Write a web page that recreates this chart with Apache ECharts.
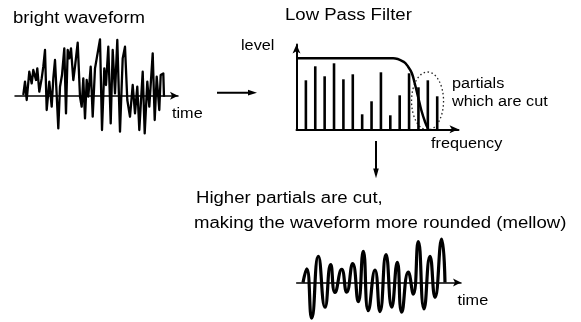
<!DOCTYPE html>
<html><head><meta charset="utf-8">
<script src="https://cdn.jsdelivr.net/npm/echarts@6/dist/echarts.min.js"></script>
<style>html,body{margin:0;padding:0;background:#fff}#c{width:581px;height:322px}</style>
</head><body><div id="c"></div>
<script>
// bright (unfiltered) waveform: time vs amplitude
const brightTime = [8.3,10,11.7,14.3,16.7,18.3,21,22.3,24.3,26.7,28.3,30,31.7,34.3,36.7,38.3,40,41.7,43.3,45,47,49.3,51,52.7,54.3,56,58.3,60,62.7,65,66.7,68.3,70,71.7,73.3,75.7,77.7,80,81.7,85,87,89.3,91,93.3,95.7,97.7,100,102.3,105,107.7,110,112.3,115,117.7,120,122.3,124.3,127.7,129.7,132.3,134.3,137.7,139.7,141.7,144.3,145.7,148.3,149];
const brightAmp  = [0.7,14,-4.3,24,12.3,25.7,15.7,27.3,4,17.3,29,45.7,-14.3,14,-11,17.3,35.7,37.3,-32.7,9,20.7,47.3,-17.7,45.7,37.3,47.3,15.7,29,53,-1,-11,17.3,-22.7,15.7,-1,29,-21,27.3,29,56.3,-34.3,27.3,10.7,49,-27.7,45.7,2.3,55.7,-36,37.3,49,-4.3,-21,10.7,-17.7,9,-34.3,24,-37.7,14,-11,42.3,-24.3,19,-14.3,20.7,22.3,-1];

// spectrum: harmonic number vs partial level
const harmonics     = [1,2,3,4,5,6,7,8,9,10,11,12,13,14,15];
const partialLevels = [49,63,53,66,50,55,15,28,57,14,34,56,42,49,33];

// low pass filter response curve
const filterFreq  = [0,10.3,11.4,11.9,12.3,12.6,12.96,13.3,13.7,14.05];
const filterLevel = [71,71,67.6,62.6,56,46,32.6,19.3,7.6,0];

// mellow (filtered) waveform
const mellowTime = [6.3,10,15,21.6,28.3,34,38.3,45,50,56,61.6,66.6,71.6,78.3,83.3,89.3,95,100.6,105,111.6,116.6,121.6,127.3,133.3,138.3,145,148.3];
const mellowAmp  = [0,14,-36,26.6,-25,18.3,-10,13.3,-9.7,19.3,-19.4,31.6,-28.4,12.6,-29.4,28.3,-25,20.6,-30,10.6,-11.7,41.6,-26.7,26.6,-15,44,0];

const labels = {
  bright: 'bright waveform', time: 'time', lpf: 'Low Pass Filter', level: 'level',
  partials: 'partials', cut: 'which are cut', freq: 'frequency',
  line1: 'Higher partials are cut,', line2: 'making the waveform more rounded (mellow)'
};

const zip = (a, b) => a.map((v, i) => [v, b[i]]);
const chart = echarts.init(document.getElementById('c'), null, {renderer: 'canvas'});

const hidden = {axisTick:{show:false}, axisLabel:{show:false}, splitLine:{show:false}};
function axis(gi, min, max, width, showLine, arrow) {
  return Object.assign({gridIndex: gi, type: 'value', min, max,
    axisLine: {show: showLine, onZero: true, symbol: ['none', 'arrow'], symbolSize: arrow,
      lineStyle: {color: '#000', width}}}, hidden);
}

function txt(x, baseline, text, size) {
  return {type: 'text', x, y: baseline - 0.31 * size, scaleX: 1.16, silent: true,
    style: {text, font: size + 'px "Liberation Sans", Arial, sans-serif', fill: '#000',
      align: 'left', verticalAlign: 'middle'}};
}

const option = {
  animation: false,
  backgroundColor: '#fff',
  grid: [
    {left: 15, top: 35.7, width: 163, height: 100},
    {left: 296.5, top: 44.5, width: 162, height: 84.8},
    {left: 296.7, top: 233.3, width: 164.3, height: 90}
  ],
  xAxis: [
    axis(0, 0, 163, 1.5, true, [6, 8]),
    axis(1, 0, 17.27, 2, true, [6, 9]),
    axis(2, 0, 164.3, 1.5, true, [6, 8])
  ],
  yAxis: [
    axis(0, -40, 60, 1, false, [0, 0]),
    axis(1, 0, 84.8, 2, true, [6, 9]),
    axis(2, -40, 50, 1, false, [0, 0])
  ],
  series: [
    {type: 'line', xAxisIndex: 0, yAxisIndex: 0, data: zip(brightTime, brightAmp),
      showSymbol: false, lineStyle: {color: '#000', width: 2.3, join: 'round'}, z: 3},
    {type: 'bar', xAxisIndex: 1, yAxisIndex: 1, data: zip(harmonics, partialLevels),
      barWidth: 2.6, itemStyle: {color: '#000'}},
    {type: 'line', xAxisIndex: 1, yAxisIndex: 1, data: zip(filterFreq, filterLevel),
      smooth: 0.4, showSymbol: false, lineStyle: {color: '#000', width: 2.5}, z: 4},
    {type: 'line', xAxisIndex: 2, yAxisIndex: 2, data: zip(mellowTime, mellowAmp),
      smooth: 0.55, showSymbol: false, lineStyle: {color: '#000', width: 3.2}, z: 3}
  ]
};
chart.setOption(option);

const ec = chart.convertToPixel({gridIndex: 1}, [13.97, 28.3]);
const graphics = [
  {type: 'ellipse', shape: {cx: ec[0], cy: ec[1], rx: 16, ry: 29}, silent: true,
    style: {fill: 'none', stroke: '#222', lineWidth: 1.3, lineDash: [1.5, 2.5]}},
  // flow arrows
  {type: 'line', shape: {x1: 217, y1: 92.7, x2: 250, y2: 92.7}, style: {stroke: '#000', lineWidth: 2}},
  {type: 'polygon', shape: {points: [[257, 92.7], [248, 89.8], [248, 95.6]]}, style: {fill: '#000'}},
  {type: 'line', shape: {x1: 376, y1: 141, x2: 376, y2: 171}, style: {stroke: '#000', lineWidth: 2}},
  {type: 'polygon', shape: {points: [[376, 178.3], [373.2, 168.5], [378.8, 168.5]]}, style: {fill: '#000'}},
  txt(13, 24, labels.bright, 16),
  txt(172, 118.3, labels.time, 14),
  txt(285, 20.7, labels.lpf, 16),
  txt(241, 50.7, labels.level, 14),
  txt(452, 88.3, labels.partials, 14),
  txt(452, 106.7, labels.cut, 14),
  txt(431, 148.5, labels.freq, 14),
  txt(196, 203.5, labels.line1, 16),
  txt(194, 228.3, labels.line2, 16),
  txt(457.5, 305, labels.time, 14)
];
chart.setOption({graphic: graphics});
</script>
</body></html>
